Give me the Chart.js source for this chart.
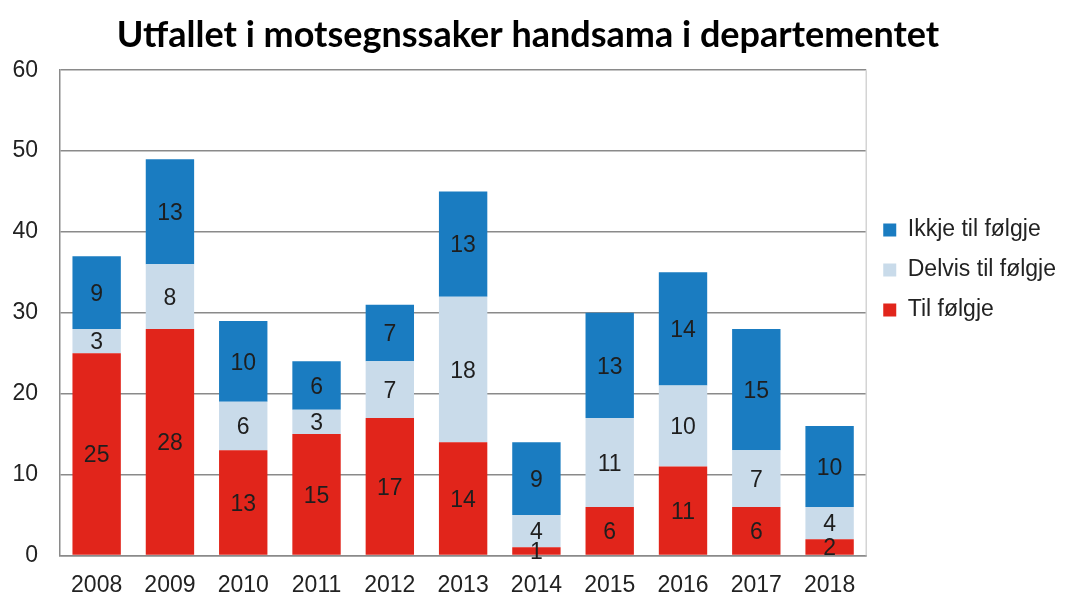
<!DOCTYPE html>
<html><head><meta charset="utf-8">
<script src="https://cdn.jsdelivr.net/npm/chart.js@4/dist/chart.umd.min.js"></script>
<style>html,body{margin:0;padding:0;background:#fff}#wrap{width:1067px;height:595px}</style>
</head><body><div id="wrap"><canvas id="c" width="1067" height="595"></canvas></div>
<script>
const categories = ['2008','2009','2010','2011','2012','2013','2014','2015','2016','2017','2018'];
const tilFolgje = [25,28,13,15,17,14,1,6,11,6,2];
const delvis = [3,8,6,3,7,18,4,11,10,7,4];
const ikkje = [9,13,10,6,7,13,9,13,14,15,10];
const yTicks = [0,10,20,30,40,50,60];

const FONT = '"Liberation Sans", Arial, sans-serif';

const labelPlugin = {
  id:'barLabels',
  afterDatasetsDraw(chart){
    const ctx = chart.ctx;
    ctx.save();
    ctx.font = '23px ' + FONT;
    ctx.fillStyle = '#1e1e1e';
    ctx.textAlign = 'center';
    ctx.textBaseline = 'middle';
    chart.data.datasets.forEach((ds,i)=>{
      const meta = chart.getDatasetMeta(i);
      meta.data.forEach((bar,j)=>{
        const top = Math.min(bar.y, bar.base), bot = Math.max(bar.y, bar.base);
        ctx.fillText(String(ds.data[j]), bar.x, (top+bot)/2 + 2);
      });
    });
    ctx.restore();
  },
  beforeDatasetsDraw(chart){
    const {ctx, chartArea:a} = chart;
    ctx.save();
    ctx.strokeStyle = '#d4d4d4';
    ctx.lineWidth = 1.5;
    ctx.beginPath(); ctx.moveTo(a.right, a.top); ctx.lineTo(a.right, a.bottom); ctx.stroke();
    ctx.restore();
  }
};

new Chart(document.getElementById('c'), {
  type:'bar',
  data:{
    labels: categories,
    datasets:[
      {label:'Til følgje', data:tilFolgje, backgroundColor:'#e1251b'},
      {label:'Delvis til følgje', data:delvis, backgroundColor:'#c9dbea'},
      {label:'Ikkje til følgje', data:ikkje, backgroundColor:'#1a7cc1'}
    ]
  },
  options:{
    responsive:false,
    animation:false,
    layout:{padding:{left:-10, right:1, top:14, bottom:-20}},
    datasets:{bar:{categoryPercentage:1, barPercentage:0.66}},
    scales:{
      x:{stacked:true,
         grid:{display:false, drawTicks:false},
         border:{color:'#8a8a8a', width:1.5},
         ticks:{color:'#222', font:{family:FONT, size:23}, padding:16}},
      y:{stacked:true, min:0, max:60,
         afterBuildTicks(s){ s.ticks = yTicks.map(v=>({value:v})); },
         afterFit(s){ s.width = 70; },
         grid:{color:'#8a8a8a', lineWidth:1.5, drawTicks:false},
         border:{color:'#8a8a8a', width:1.5},
         ticks:{color:'#222', font:{family:FONT, size:23}, padding:22}}
    },
    plugins:{
      title:{display:true, text:'Utfallet i motsegnssaker handsama i departementet',
        color:'#000', font:{family:'Lato, "Open Sans", sans-serif', size:36, weight:'bold'},
        padding:{top:0, bottom:13}},
      legend:{position:'right', align:'start', reverse:true,
        title:{display:true, text:'', padding:{top:173, bottom:0}},
        labels:{boxWidth:13, boxHeight:13, padding:17, color:'#222',
          font:{family:FONT, size:23}}},
      tooltip:{enabled:false}
    }
  },
  plugins:[labelPlugin]
});
</script></body></html>
